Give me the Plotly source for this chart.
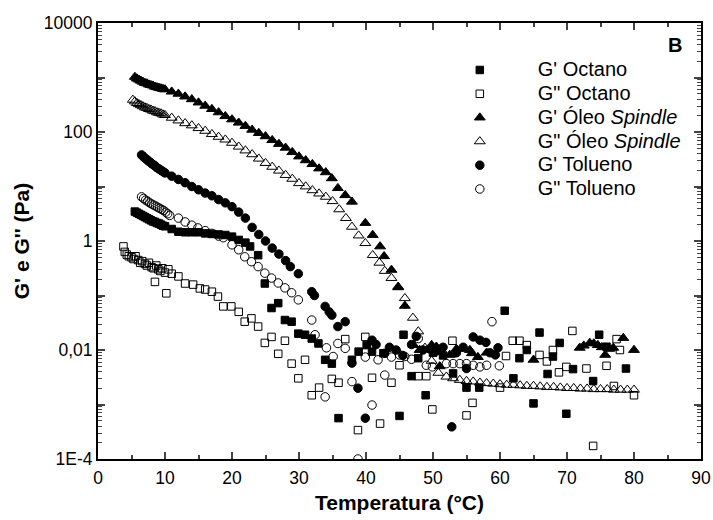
import numpy as np
import plotly.graph_objects as go

# ---- data (temperature in °C, log10 of modulus in Pa) ----
t_gp_spindle = [5.5, 5.8, 6.1, 6.4, 6.7, 7.0, 7.3, 7.6, 7.9, 8.2, 8.5, 8.8, 9.1, 9.4, 9.7, 10.0,
                11, 12, 13, 14, 15, 16, 17, 18, 19, 20, 21, 22, 23, 24, 25, 26, 27, 28, 29, 30,
                31, 32, 33, 34, 34.9, 35.8, 36.9, 37.9, 39.9, 41.0, 42.1, 42.7, 43.8, 44.8, 45.8,
                47.1, 48.0, 49.8, 50.5, 51.0, 52.5, 53.5, 55.5, 55.8, 56.7, 58.0, 65.0,
                71.9, 72.5, 73.4, 74.0, 74.6, 75.2, 75.7, 76.3, 76.9, 78.4, 80.0]
lg_gp_spindle = [3.01, 2.98, 2.96, 2.94, 2.92, 2.90, 2.89, 2.87, 2.86, 2.85, 2.83, 2.82, 2.81, 2.80, 2.79, 2.78,
                 2.74, 2.70, 2.65, 2.60, 2.54, 2.48, 2.42, 2.36, 2.29, 2.23, 2.17, 2.11, 2.04, 1.98, 1.92, 1.85,
                 1.78, 1.71, 1.63, 1.55, 1.48, 1.41, 1.33, 1.26, 1.15, 0.97, 0.84, 0.72, 0.33, 0.11, -0.10,
                 -0.28, -0.53, -0.85, -1.19, -1.91, -2.00, -1.91, -1.94, -2.30, -2.09, -1.98, -2.00, -2.06,
                 -2.13, -2.05, -2.18, -1.96, -1.92, -1.87, -1.88, -1.91, -1.95, -2.09, -1.98, -1.96, -1.78, -2.00]

t_gpp_spindle = [5.2, 5.5, 5.8, 6.1, 6.4, 6.7, 7.0, 7.3, 7.6, 7.9, 8.2, 8.5, 8.8, 9.1, 9.4, 9.7, 10.0,
                 11, 12, 13, 14, 15, 16, 17, 18, 19, 20, 21, 22, 23, 24, 25, 26, 27, 28, 29, 30,
                 31, 32, 33, 34, 35, 36, 37, 37.9, 38.9, 39.9, 41.0, 42.0, 42.8, 43.8, 44.8, 45.8,
                 47.0, 47.8, 48.8, 49.8, 50.8, 52, 53, 54, 55, 56, 57, 58, 59, 60, 61, 62, 63, 64,
                 65, 66, 67, 68, 69, 70, 71, 72, 73, 74, 75, 76, 77, 78, 79, 80]
lg_gpp_spindle = [2.59, 2.56, 2.53, 2.51, 2.49, 2.47, 2.45, 2.44, 2.42, 2.41, 2.39, 2.38, 2.36, 2.35, 2.34, 2.32, 2.31,
                  2.26, 2.21, 2.16, 2.12, 2.07, 2.02, 1.96, 1.91, 1.86, 1.80, 1.73, 1.66, 1.59, 1.51, 1.43, 1.36,
                  1.29, 1.21, 1.14, 1.06, 1.00, 0.93, 0.87, 0.81, 0.73, 0.58, 0.42, 0.26, 0.10, -0.04, -0.26,
                  -0.40, -0.55, -0.68, -0.84, -1.05, -1.41, -1.66, -1.96, -2.20, -2.42, -2.49, -2.52, -2.55,
                  -2.57, -2.58, -2.60, -2.61, -2.62, -2.63, -2.64, -2.64, -2.65, -2.66, -2.66, -2.67, -2.68,
                  -2.68, -2.69, -2.70, -2.70, -2.71, -2.71, -2.72, -2.72, -2.72, -2.73, -2.73, -2.73, -2.73]

t_gp_tolueno = [6.5, 6.75, 7.0, 7.25, 7.5, 7.75, 8.0, 8.25, 8.5, 8.75, 9.0, 9.25, 9.5, 9.75, 10.0,
                11, 12, 13, 14, 15, 16, 17, 18, 19, 20, 21, 22, 23, 24, 25, 26, 27, 28, 28.7, 29.9,
                31.9, 32.3, 33.9, 34.5, 34.9, 35.8, 36.9, 37.9, 38.8, 39.9, 40.9, 41.5, 42.8, 43.5,
                44.5, 45.5, 46.8, 47.5, 48.5, 49.5, 50.5, 51.5, 52.8, 53.5, 54.5, 55.0, 56.0, 57.0,
                57.9, 58.5, 59.3, 59.7]
lg_gp_tolueno = [1.58, 1.55, 1.52, 1.50, 1.47, 1.45, 1.42, 1.40, 1.38, 1.35, 1.33, 1.31, 1.29, 1.27, 1.25,
                 1.19, 1.13, 1.07, 1.00, 0.94, 0.88, 0.83, 0.76, 0.70, 0.63, 0.53, 0.42, 0.25, 0.12, 0.00,
                 -0.13, -0.24, -0.36, -0.47, -0.60, -0.93, -1.00, -1.20, -1.30, -1.36, -1.57, -1.48, -2.24,
                 -2.70, -3.25, -1.82, -1.90, -2.06, -1.95, -2.00, -2.10, -1.90, -1.75, -2.00, -1.98, -2.02,
                 -1.95, -3.41, -2.05, -1.95, -2.34, -1.76, -1.82, -1.86, -2.05, -2.09, -1.96]

t_gpp_tolueno = [6.5, 6.8, 7.1, 7.4, 7.7, 8.0, 8.3, 8.6, 8.9, 9.2, 9.5, 9.8, 10.1, 10.4, 10.7,
                 12, 13, 14, 14.9, 16, 17, 18, 18.7, 20, 21, 21.9, 22.9, 23.9, 24.9, 25.9, 26.9, 27.9,
                 28.9, 29.9, 31.9, 32.4, 33.9, 34.1, 35.1, 35.8, 36.9, 37.9, 38.8, 39.9, 40.9, 41.8,
                 42.8, 43.8, 45.0, 45.8, 46.8, 47.8, 49.0, 49.9, 51.0, 52, 53, 54, 55, 56, 57, 58,
                 58.8, 59.9]
lg_gpp_tolueno = [0.81, 0.78, 0.75, 0.73, 0.70, 0.68, 0.66, 0.64, 0.62, 0.60, 0.58, 0.56, 0.53, 0.50, 0.47,
                  0.42, 0.35, 0.29, 0.24, 0.19, 0.14, 0.09, 0.06, -0.07, -0.16, -0.29, -0.38, -0.47, -0.59,
                  -0.68, -0.77, -0.86, -0.95, -1.08, -1.45, -1.72, -2.86, -1.96, -2.12, -1.88, -1.97, -2.58,
                  -4.00, -2.13, -3.01, -2.18, -2.46, -2.13, -2.09, -2.12, -2.17, -1.79, -2.28, -2.31, -1.99,
                  -2.25, -2.25, -2.25, -2.25, -2.28, -2.31, -2.28, -1.48, -2.29]

t_gp_octano = [5.5, 5.8, 6.1, 6.4, 6.7, 7.0, 7.3, 7.6, 7.9, 8.2, 8.5, 8.8, 9.1, 9.4, 9.7, 10.0,
               11, 12, 13, 14, 15, 16, 17, 18, 19, 20, 21, 22, 22.7, 23.9, 24.9, 25.9, 26.9, 27.9,
               28.9, 29.9, 30.9, 31.9, 32.9, 33.9, 34.9, 35.9, 37.9, 38.9, 40.1, 40.9, 42.6, 45.0,
               45.6, 46.8, 47.8, 48.9, 50.0, 51.5, 53.0, 55.0, 56.9, 60.7, 62.0, 62.9, 64.0, 65.0,
               65.9, 67.1, 67.9, 68.9, 69.9, 70.9, 73.9, 74.8, 75.9, 78.8]
lg_gp_octano = [0.54, 0.52, 0.50, 0.48, 0.46, 0.44, 0.42, 0.40, 0.38, 0.36, 0.35, 0.33, 0.32, 0.30, 0.28, 0.27,
                0.22, 0.17, 0.16, 0.16, 0.16, 0.14, 0.13, 0.12, 0.11, 0.08, 0.02, -0.03, -0.10, -0.26, -0.78,
                -1.23, -1.14, -1.45, -1.48, -1.70, -1.72, -1.79, -1.88, -2.18, -2.25, -3.25, -2.18, -2.03,
                -1.91, -2.03, -2.06, -3.21, -1.72, -2.48, -2.15, -2.83, -2.05, -2.10, -2.43, -2.69, -2.69,
                -1.28, -2.52, -2.15, -2.00, -2.98, -1.68, -2.44, -2.12, -1.87, -3.17, -2.35, -2.57, -1.72,
                -1.94, -2.34]

t_gpp_octano = [3.8, 4.0, 4.3, 4.6, 5.0, 5.3, 5.6, 6.0, 6.3, 6.6, 7.0, 7.3, 7.6, 8.0, 8.3, 8.5, 8.7,
                9.0, 9.3, 9.6, 10.0, 10.2, 10.5, 11.0, 12.0, 13.0, 14.2, 15.2, 16.0, 17.0, 17.9, 18.7,
                19.9, 21.0, 21.9, 22.9, 23.9, 24.9, 25.9, 26.9, 27.9, 28.9, 29.9, 30.9, 31.9, 33.0,
                34.9, 35.9, 36.9, 38.8, 39.9, 40.9, 42.1, 43.8, 45.0, 47.8, 49.0, 49.9, 52.9, 55.0,
                55.9, 60.0, 60.9, 61.9, 62.9, 64.0, 65.9, 67.0, 67.9, 68.8, 69.9, 70.8, 72.9, 73.9,
                75.9, 77.0, 77.4, 77.9, 80.0]
lg_gpp_octano = [-0.10, -0.20, -0.25, -0.28, -0.30, -0.33, -0.28, -0.35, -0.40, -0.37, -0.42, -0.45, -0.40,
                 -0.48, -0.50, -0.75, -0.45, -0.52, -0.55, -0.50, -0.58, -0.96, -0.52, -0.60, -0.65, -0.78,
                 -0.80, -0.87, -0.89, -0.93, -1.02, -1.20, -1.20, -1.30, -1.48, -1.42, -1.57, -1.87, -1.76,
                 -2.07, -1.83, -2.25, -2.52, -2.18, -2.83, -2.69, -2.53, -2.60, -1.80, -3.47, -1.76, -2.51,
                 -3.35, -2.60, -2.28, -2.48, -2.48, -3.09, -1.83, -3.20, -2.97, -2.69, -2.11, -1.83, -1.83,
                 -1.91, -2.09, -2.21, -2.00, -2.41, -2.31, -1.65, -2.34, -3.76, -2.29, -2.66, -1.80, -2.00,
                 -2.83]

series_names = ["G' Octano", 'G" Octano', "G' Óleo <i>Spindle</i>", 'G" Óleo <i>Spindle</i>',
                "G' Tolueno", 'G" Tolueno']

y_tickvals = [1e-4, 1e-3, 1e-2, 1e-1, 1, 10, 100, 1000, 1e4]
y_ticktext = ["1E-4", "", "0,01", "", "1", "", "100", "", "10000"]
x_tickvals = [0, 10, 20, 30, 40, 50, 60, 70, 80, 90]

FONT = "Arial, Liberation Sans, sans-serif"

series = [
    (t_gp_octano, lg_gp_octano, "square", 7.5),
    (t_gpp_octano, lg_gpp_octano, "square-open", 7.5),
    (t_gp_spindle, lg_gp_spindle, "triangle-up", 9.5),
    (t_gpp_spindle, lg_gpp_spindle, "triangle-up-open", 9.5),
    (t_gp_tolueno, lg_gp_tolueno, "circle", 8.5),
    (t_gpp_tolueno, lg_gpp_tolueno, "circle-open", 8.5),
]

fig = go.Figure()
for name, (tx, ly, sym, sz) in zip(series_names, series):
    fig.add_trace(go.Scatter(
        x=tx, y=np.power(10.0, ly), mode="markers",
        name='<span style="font-size:20px">' + name + '</span>',
        marker=dict(symbol=sym, size=sz, color="black",
                    line=dict(color="black", width=1)),
    ))

minor_vals = [m * 10.0 ** d for d in range(-4, 4) for m in range(2, 10)]

fig.update_layout(
    width=713, height=520,
    margin=dict(l=98, r=12, t=23, b=61),
    paper_bgcolor="white", plot_bgcolor="white",
    font=dict(family=FONT, size=17, color="black"),
    showlegend=True,
    legend=dict(x=0.537, y=0.931, xanchor="left", yanchor="top",
                bgcolor="rgba(0,0,0,0)", font=dict(size=16), itemwidth=106,
                tracegroupgap=0),
    xaxis=dict(range=[0, 90], tickvals=x_tickvals, ticks="inside", ticklen=7, tickwidth=1.5,
               showline=True, linewidth=2, linecolor="black", mirror="ticks",
               showgrid=False, zeroline=False, tickfont=dict(size=17.5), automargin=False,
               ticklabelstandoff=2,
               minor=dict(dtick=5, tick0=0, ticks="inside", ticklen=4, tickwidth=1.5, showgrid=False),
               title=dict(text="<b>Temperatura (°C)</b>", font=dict(size=21), standoff=8)),
    yaxis=dict(type="log", range=[-4, 4], tickvals=y_tickvals, ticktext=y_ticktext,
               ticks="inside", ticklen=7, tickwidth=1.5, automargin=False,
               showline=True, linewidth=2, linecolor="black", mirror="ticks",
               showgrid=False, zeroline=False, tickfont=dict(size=17.5),
               minor=dict(tickvals=minor_vals, ticks="inside", ticklen=4, tickwidth=1, showgrid=False),
               title=dict(text="<b>G' e G'' (Pa)</b>", font=dict(size=21), standoff=8)),
    annotations=[dict(text="<b>B</b>", x=0.972, y=0.9495, xref="paper", yref="paper",
                      xanchor="right", yanchor="middle", showarrow=False,
                      font=dict(size=20, family=FONT))],
)

fig.write_html("out.html", config={"displayModeBar": False},
               post_script="document.body.style.margin='0';document.body.style.padding='0';")
